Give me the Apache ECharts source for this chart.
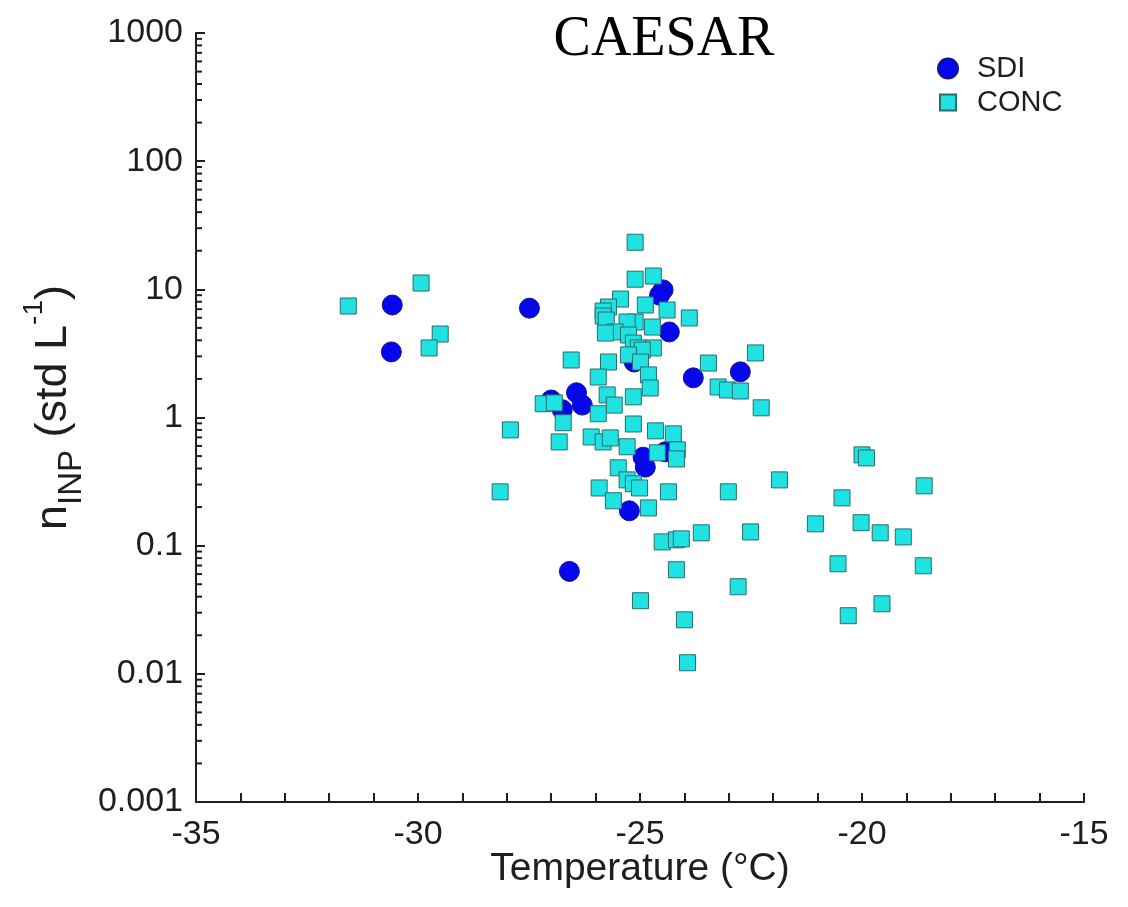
<!DOCTYPE html>
<html>
<head>
<meta charset="utf-8">
<title>CAESAR</title>
<script src="https://cdn.jsdelivr.net/npm/echarts@6/dist/echarts.min.js"></script>
<style>
  html, body { margin: 0; padding: 0; background: #ffffff; }
  #chart { width: 1128px; height: 907px; }
</style>
</head>
<body>
<div id="chart"></div>
<script>
// INP number concentration vs. temperature, CAESAR campaign
// SDI filter samples
const sdiTemp = [-30.58, -30.60, -27.49, -27.00, -26.43, -26.30, -26.75, -24.48, -24.56,
  -24.34, -25.13, -23.80, -22.74, -24.93, -24.88, -24.43, -25.24, -26.59];
const sdiConc = [7.55, 3.25, 7.13, 1.37, 1.56, 1.25, 1.15, 9.9, 9.0,
  4.65, 2.71, 2.04, 2.27, 0.49, 0.41, 0.54, 0.187, 0.063];

// CONC samples
const concTemp = [-31.57, -29.93, -29.50, -29.75, -27.92, -28.15, -26.55, -27.18, -26.93, -26.73,
  -26.82, -25.11, -25.11, -24.70, -25.44, -25.71, -25.83, -25.83, -25.76, -24.88,
  -24.39, -23.89, -25.11, -25.29, -24.72, -25.56, -25.78, -25.26, -25.15, -25.04,
  -24.70, -24.95, -25.26, -25.71, -25.94, -24.99, -24.81, -24.77, -25.74, -25.15,
  -25.58, -25.94, -25.15, -24.65, -24.25, -26.10, -25.83, -25.67, -25.29, -24.61,
  -24.16, -24.18, -25.49, -25.29, -25.15, -25.01, -25.92, -25.60, -24.81, -24.36,
  -23.01, -21.86, -24.50, -24.18, -24.07, -23.62, -22.51, -24.18, -22.79, -24.99,
  -24.00, -23.93, -23.46, -22.40, -23.24, -23.03, -22.74, -22.27, -20.00, -19.90,
  -18.60, -20.45, -21.05, -20.02, -19.59, -19.07, -20.54, -18.62, -19.55, -20.31];
const concConc = [7.41, 11.2, 4.48, 3.49, 0.80, 0.263, 2.81, 1.28, 1.30, 0.91,
  0.645, 23.3, 12.0, 12.7, 8.40, 7.28, 6.77, 6.19, 5.76, 7.55,
  6.90, 5.98, 5.56, 5.56, 5.08, 4.65, 4.56, 4.40, 3.81, 3.49,
  3.49, 3.36, 3.08, 2.71, 2.07, 2.71, 2.15, 1.70, 1.50, 1.45,
  1.25, 1.07, 0.89, 0.787, 0.745, 0.705, 0.645, 0.693, 0.591, 0.530,
  0.559, 0.475, 0.405, 0.326, 0.304, 0.282, 0.282, 0.224, 0.197, 0.263,
  0.263, 0.326, 0.107, 0.111, 0.113, 0.126, 0.128, 0.0649, 0.0478, 0.0372,
  0.0264, 0.0122, 2.66, 3.19, 1.73, 1.64, 1.61, 1.19, 0.511, 0.484,
  0.293, 0.236, 0.148, 0.151, 0.126, 0.117, 0.0722, 0.0697, 0.0352, 0.0284];

// Axis ranges and labels
const xMin = -35, xMax = -15, xStep = 5;
const yTickLabels = ['0.001', '0.01', '0.1', '1', '10', '100', '1000'];
const yMin = 0.001, yMax = 1000;

const sansFont = '"Liberation Sans", Arial, Helvetica, sans-serif';
const serifFont = '"Liberation Serif", "Times New Roman", serif';
const ink = '#1e1e1e';

const zip = (xs, ys) => xs.map((x, i) => [x, ys[i]]);

// Minor tick positions of the log axis: 2..9 within each decade
const yMinorTicks = [];
for (let e = -3; e < 3; e++) {
  for (let m = 2; m <= 9; m++) yMinorTicks.push([xMin, m * Math.pow(10, e)]);
}

const chart = echarts.init(document.getElementById('chart'), null, { renderer: 'canvas' });

chart.setOption({
  animation: false,
  backgroundColor: '#ffffff',
  title: {
    text: 'CAESAR',
    left: 659,
    top: 7,
    textAlign: 'center',
    textStyle: { fontFamily: serifFont, fontSize: 56, fontWeight: 'normal', color: '#000000' }
  },
  grid: { left: 196, right: 44, top: 33, bottom: 105, containLabel: false, outerBoundsMode: 'none' },
  legend: [
    {
      data: ['SDI'],
      orient: 'vertical',
      left: 932, top: 49,
      itemWidth: 20, itemHeight: 20,
      selectedMode: false,
      textStyle: { fontFamily: sansFont, fontSize: 29, color: ink, padding: [0, 0, 0, 14] }
    },
    {
      data: ['CONC'],
      orient: 'vertical',
      left: 934, top: 83,
      itemWidth: 16, itemHeight: 16,
      selectedMode: false,
      textStyle: { fontFamily: sansFont, fontSize: 29, color: ink, padding: [0, 0, 0, 16] }
    }
  ],
  xAxis: {
    type: 'value',
    min: xMin, max: xMax, interval: xStep,
    name: 'Temperature (°C)',
    nameLocation: 'middle',
    nameGap: 48,
    nameMoveOverlap: false,
    nameTextStyle: { fontFamily: sansFont, fontSize: 39, color: ink },
    axisLine: { show: true, onZero: false, lineStyle: { color: ink, width: 2 } },
    axisTick: { show: true, inside: true, length: 9, lineStyle: { color: ink, width: 2 } },
    minorTick: { show: true, splitNumber: 5, length: 9, lineStyle: { color: ink, width: 2 } },
    axisLabel: { fontFamily: sansFont, fontSize: 34, color: ink, margin: 16 },
    splitLine: { show: false }
  },
  yAxis: {
    type: 'log',
    logBase: 10,
    min: yMin, max: yMax,
    splitNumber: 6,
    name: '{m|n}{sub|INP}{m| (std L}{sup|-1}{m|)}',
    nameLocation: 'middle',
    nameRotate: 90,
    nameGap: 108,
    nameMoveOverlap: false,
    nameTextStyle: {
      fontFamily: sansFont, color: ink,
      padding: [0, 0, 0, 20],
      rich: {
        m: { fontFamily: sansFont, fontSize: 45, color: ink, lineHeight: 68 },
        sub: { fontFamily: sansFont, fontSize: 33, color: ink, lineHeight: 32, verticalAlign: 'bottom' },
        sup: { fontFamily: sansFont, fontSize: 28, color: ink, lineHeight: 24, verticalAlign: 'top' }
      }
    },
    axisLine: { show: true, onZero: false, lineStyle: { color: ink, width: 2 } },
    axisTick: { show: true, inside: true, length: 9, lineStyle: { color: ink, width: 2 } },
    axisLabel: {
      fontFamily: sansFont, fontSize: 34, color: ink, margin: 13,
      formatter: v => yTickLabels[Math.round(Math.log10(v)) + 3]
    },
    splitLine: { show: false }
  },
  series: [
    {
      // minor ticks of the logarithmic y axis
      type: 'custom',
      name: 'yMinor',
      silent: true,
      clip: false,
      z: 1,
      data: yMinorTicks,
      renderItem: (params, api) => {
        const p = api.coord([api.value(0), api.value(1)]);
        return {
          type: 'line',
          shape: { x1: p[0], y1: p[1], x2: p[0] + 6, y2: p[1] },
          style: { stroke: ink, lineWidth: 2 }
        };
      }
    },
    {
      name: 'SDI',
      type: 'scatter',
      symbol: 'circle',
      symbolSize: 20,
      z: 2,
      data: zip(sdiTemp, sdiConc),
      itemStyle: { color: '#0505ee', borderColor: '#14148c', borderWidth: 1, opacity: 1 }
    },
    {
      name: 'CONC',
      type: 'scatter',
      symbol: 'rect',
      symbolSize: 16,
      z: 3,
      data: zip(concTemp, concConc),
      itemStyle: { color: '#1fe3e3', borderColor: '#2b6b6b', borderWidth: 1, opacity: 1 }
    }
  ]
});
</script>
</body>
</html>
